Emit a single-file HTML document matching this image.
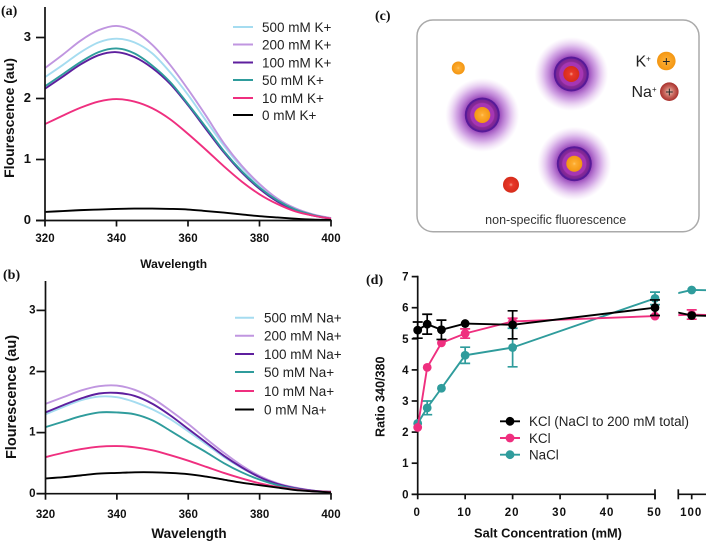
<!DOCTYPE html>
<html lang="en">
<head>
<meta charset="utf-8">
<title>Fluorescence figure</title>
<style>
html,body{margin:0;padding:0;background:#fff;width:706px;height:543px;overflow:hidden}
svg{display:block;font-family:"Liberation Sans",sans-serif}
.tick{font-weight:bold;fill:#111}
.title{font-weight:bold;fill:#111}
.leg{fill:#222}
.panel{font-family:"Liberation Serif",serif;font-weight:bold;font-size:14px;fill:#111}
</style>
</head>
<body>
<svg id="fig" xmlns="http://www.w3.org/2000/svg" width="706" height="543" viewBox="0 0 706 543">
<defs>
<radialGradient id="glow"><stop offset="0.45" stop-color="#8a2fb0" stop-opacity="0.9"/><stop offset="0.7" stop-color="#b060d0" stop-opacity="0.55"/><stop offset="1" stop-color="#d9a8e8" stop-opacity="0"/></radialGradient>
<radialGradient id="ring"><stop offset="0.45" stop-color="#a636b4"/><stop offset="0.66" stop-color="#a636b4"/><stop offset="0.72" stop-color="#872a96"/><stop offset="0.86" stop-color="#7a2596"/><stop offset="0.9" stop-color="#571a98"/><stop offset="1" stop-color="#571a98"/></radialGradient>
<radialGradient id="orange"><stop offset="0" stop-color="#ffc868"/><stop offset="0.22" stop-color="#fdac30"/><stop offset="1" stop-color="#f39612"/></radialGradient>
<radialGradient id="red"><stop offset="0" stop-color="#f6a08a"/><stop offset="0.25" stop-color="#e8382a"/><stop offset="1" stop-color="#d62c1a"/></radialGradient>
<radialGradient id="nared"><stop offset="0" stop-color="#ecc4b4"/><stop offset="0.55" stop-color="#c8655c"/><stop offset="1" stop-color="#a8302c"/></radialGradient>
<clipPath id="left-clip"><rect x="400" y="260" width="255.5" height="250"/></clipPath>
<clipPath id="right-clip"><rect x="678.3" y="260" width="30" height="250"/></clipPath>
</defs>

<text class="panel" x="1" y="15">(a)</text>
<text class="panel" x="3" y="279">(b)</text>
<text class="panel" x="375" y="20">(c)</text>
<text class="panel" x="366" y="284">(d)</text>

<g id="panel-a">
  <text class="title" font-size="14" text-anchor="middle" transform="translate(14 118) rotate(-90)">Flourescence (au)</text>
  <text class="title" font-size="12" text-anchor="middle" x="173.7" y="268">Wavelength</text>
</g>
<g font-size="13.5" class="leg">
  <text x="262" y="32">500 mM K+</text>
  <text x="262" y="49.5">200 mM K+</text>
  <text x="262" y="67.5">100 mM K+</text>
  <text x="262" y="85">50 mM K+</text>
  <text x="262" y="103">10 mM K+</text>
  <text x="262" y="120">0 mM K+</text>
</g>

<g id="panel-b">
  <text class="title" font-size="14.5" text-anchor="middle" transform="translate(16 397) rotate(-90)">Flourescence (au)</text>
  <text class="title" font-size="13.5" text-anchor="middle" x="189" y="538">Wavelength</text>
</g>
<g font-size="13.5" class="leg">
  <text x="264" y="322.5">500 mM Na+</text>
  <text x="264" y="340.5">200 mM Na+</text>
  <text x="264" y="359">100 mM Na+</text>
  <text x="264" y="377">50 mM Na+</text>
  <text x="264" y="396">10 mM Na+</text>
  <text x="264" y="414.5">0 mM Na+</text>
</g>

<g>
  <rect x="417" y="20" width="282" height="211.7" rx="16" fill="#fff" stroke="#aaa" stroke-width="1.5"/>
  <g>
    <circle cx="482.3" cy="115" r="37" fill="url(#glow)"/><circle cx="482.3" cy="115" r="17.5" fill="url(#ring)"/><circle cx="482.3" cy="115" r="8" fill="url(#orange)"/>
  </g>
  <g>
    <circle cx="571.3" cy="74" r="37" fill="url(#glow)"/><circle cx="571.3" cy="74" r="17.5" fill="url(#ring)"/><circle cx="571.3" cy="74" r="8" fill="url(#red)"/>
  </g>
  <g>
    <circle cx="574.3" cy="163.7" r="37" fill="url(#glow)"/><circle cx="574.3" cy="163.7" r="17.5" fill="url(#ring)"/><circle cx="574.3" cy="163.7" r="8" fill="url(#orange)"/>
  </g>
  <circle cx="458.3" cy="68" r="6.5" fill="url(#orange)"/>
  <circle cx="511" cy="184.7" r="8" fill="url(#red)"/>
  <text x="635.5" y="66.5" font-size="16" fill="#222">K<tspan font-size="8" dy="-5">+</tspan></text>
  <circle cx="666.3" cy="61" r="9.3" fill="url(#orange)"/>
  <text x="666.3" y="66" font-size="14" text-anchor="middle" fill="#222">+</text>
  <text x="631.5" y="97" font-size="16" fill="#222">Na<tspan font-size="8" dy="-5">+</tspan></text>
  <circle cx="669.3" cy="91.7" r="9.3" fill="url(#nared)"/>
  <text x="669.3" y="96.7" font-size="14" text-anchor="middle" fill="#222">+</text>
  <text x="555.7" y="224" font-size="12.5" text-anchor="middle" fill="#333">non-specific fluorescence</text>
</g>

<g id="panel-d">
  <text class="title" font-size="12.6" text-anchor="middle" transform="translate(384.5 396.7) rotate(-90)">Ratio 340/380</text>
  <text class="title" font-size="12.8" text-anchor="middle" x="548" y="537.5">Salt Concentration (mM)</text>
</g>
<g font-size="13.4" class="leg">
  <text x="529" y="426">KCl (NaCl to 200 mM total)</text>
  <text x="529" y="443">KCl</text>
  <text x="529" y="459.5">NaCl</text>
</g>
</svg>

<script>
// ---- Spectra data ----
const wavelengths = [320,325,330,335,340,345,350,355,360,365,370,375,380,385,390,395,400];
const specTicksX = [320,340,360,380,400];
const specTicksY = [0,1,2,3];
const seriesColors = ['#a5dcf0','#c096e0','#5e1f9e','#2f9c9c','#ef2f7f','#000000'];

const k500 = [2.35,2.55,2.76,2.92,2.98,2.92,2.74,2.43,2.06,1.64,1.23,0.87,0.57,0.35,0.19,0.09,0.04];
const k200 = [2.50,2.72,2.95,3.12,3.19,3.10,2.88,2.55,2.15,1.72,1.27,0.90,0.60,0.36,0.20,0.10,0.04];
const k100 = [2.16,2.36,2.56,2.71,2.76,2.68,2.50,2.24,1.89,1.50,1.12,0.79,0.52,0.31,0.17,0.08,0.03];
const k50  = [2.20,2.40,2.60,2.76,2.82,2.74,2.54,2.27,1.91,1.53,1.14,0.81,0.54,0.33,0.18,0.09,0.03];
const k10  = [1.58,1.72,1.85,1.95,1.99,1.95,1.84,1.66,1.42,1.16,0.89,0.64,0.43,0.27,0.15,0.08,0.03];
const k0   = [0.14,0.155,0.17,0.18,0.19,0.195,0.195,0.19,0.18,0.155,0.13,0.10,0.07,0.05,0.03,0.015,0.01];

const na500 = [1.30,1.42,1.53,1.59,1.58,1.50,1.38,1.22,1.02,0.81,0.60,0.42,0.27,0.16,0.09,0.05,0.03];
const na200 = [1.47,1.58,1.69,1.76,1.77,1.70,1.56,1.36,1.14,0.90,0.67,0.46,0.29,0.17,0.10,0.05,0.03];
const na100 = [1.33,1.45,1.56,1.64,1.65,1.60,1.47,1.28,1.06,0.84,0.62,0.43,0.27,0.16,0.09,0.05,0.03];
const na50  = [1.09,1.18,1.27,1.33,1.33,1.30,1.20,1.03,0.85,0.68,0.50,0.35,0.23,0.14,0.08,0.04,0.03];
const na10  = [0.60,0.67,0.73,0.77,0.78,0.76,0.71,0.63,0.54,0.44,0.34,0.25,0.17,0.11,0.07,0.04,0.03];
const na0   = [0.25,0.27,0.30,0.33,0.34,0.35,0.35,0.34,0.32,0.28,0.23,0.18,0.14,0.10,0.06,0.04,0.02];

// ---- Ratio data ----
const concentrations = [0,2,5,10,20,50,100,200];
const ratioTicksX = [0,10,20,30,40,50,100];
const ratioTicksY = [0,1,2,3,4,5,6,7];
const naclMean = [2.28,2.78,3.41,4.47,4.72,6.30,6.57,6.55];
const naclErr  = [0,0.22,0,0.26,0.62,0.20,0,0.05];
const kclMean  = [2.15,4.08,4.87,5.17,5.56,5.73,5.78,5.75];
const kclErr   = [0,0,0,0.15,0.10,0,0.15,0.05];
const mixMean  = [5.28,5.47,5.29,5.49,5.45,6.00,5.75,5.72];
const mixErr   = [0.26,0.32,0.31,0,0.45,0.25,0,0.05];

const NS = 'http://www.w3.org/2000/svg';
const fig = document.getElementById('fig');
function make(tag, attrs, parent){
  const node = document.createElementNS(NS, tag);
  for (const key in attrs) node.setAttribute(key, attrs[key]);
  parent.appendChild(node);
  return node;
}
function smoothPath(pts){
  let d = 'M' + pts[0][0].toFixed(2) + ' ' + pts[0][1].toFixed(2);
  for (let i = 0; i < pts.length - 1; i++){
    const p0 = pts[Math.max(i-1,0)], p1 = pts[i], p2 = pts[i+1], p3 = pts[Math.min(i+2,pts.length-1)];
    const c1x = p1[0] + (p2[0]-p0[0])/6, c1y = p1[1] + (p2[1]-p0[1])/6;
    const c2x = p2[0] - (p3[0]-p1[0])/6, c2y = p2[1] - (p3[1]-p1[1])/6;
    d += 'C' + [c1x,c1y,c2x,c2y,p2[0],p2[1]].map(v => v.toFixed(2)).join(' ');
  }
  return d;
}
function hline(parent, x1, x2, y, w, color){
  return make('line', {x1:x1, x2:x2, y1:y, y2:y, stroke:color, 'stroke-width':w}, parent);
}
function vline(parent, x, y1, y2, w, color){
  return make('line', {x1:x, x2:x, y1:y1, y2:y2, stroke:color, 'stroke-width':w}, parent);
}

function drawSpectra(groupId, x0, x1, y0, unit, top, series, cfg){
  const g = document.getElementById(groupId);
  const xs = v => x0 + (v - 320) * (x1 - x0) / 80;
  const ys = v => y0 - v * unit;
  series.forEach(function(vals, i){
    const line = make('path', {d: smoothPath(wavelengths.map((w, j) => [xs(w), ys(vals[j])])), fill:'none', stroke:seriesColors[i], 'stroke-width':1.9}, g);
    
    
    const key = hline(g, cfg.legX1, cfg.legX2, cfg.legY[i], 2, seriesColors[i]);
    
    
  });
  const yAxis = vline(g, x0, top, y0 + 0.8, 1.7, '#111');
  
  
  const xAxis = hline(g, x0 - 9, x1 + 0.8, y0, 1.7, '#111');
  
  
  specTicksX.forEach(function(t){
    const tick = vline(g, xs(t), y0, y0 + 6, 1.7, '#111');
    
    
    const label = make('text', {x:xs(t), y:cfg.xLabelY, 'text-anchor':'middle', 'font-size':cfg.xFont, class:'tick'}, g);
    label.textContent = t;
    
    
  });
  specTicksY.forEach(function(t){
    const tick = hline(g, x0 - 9, x0, ys(t), 1.7, '#111');
    
    
    const label = make('text', {x:cfg.yLabelX, y:ys(t) + cfg.yFont * 0.36 - 1, 'text-anchor':'end', 'font-size':cfg.yFont, class:'tick'}, g);
    label.textContent = t;
    
    
  });
}

drawSpectra('panel-a', 45, 331, 220.5, 61, 7, [k500,k200,k100,k50,k10,k0],
  {legX1:233, legX2:253, legY:[27,44.5,62.5,80,98,115], xLabelY:242, xFont:11.5, yLabelX:31, yFont:13});
drawSpectra('panel-b', 45.5, 331, 493.7, 61.1, 281, [na500,na200,na100,na50,na10,na0],
  {legX1:235, legX2:254, legY:[317.7,335.7,354,372,391,409.5], xLabelY:518, xFont:11.5, yLabelX:35.5, yFont:11.5});

// ---- Ratio panel ----
const gd = document.getElementById('panel-d');
function xD(c){
  if (c <= 50) return 417.7 + c * 4.746;
  if (c <= 100) return 655 + (c - 50) * 0.734;
  return 691.7 + (c - 100) * 0.37;
}
function yD(v){ return 494.3 - v * 31.1; }

const axisYD = vline(gd, xD(0), yD(7) - 0.8, yD(0) + 0.8, 1.7, '#111');


const axisXD = hline(gd, xD(0) - 6, xD(50), yD(0), 1.7, '#111');


const axisXD2 = hline(gd, 678.3, 706, yD(0), 1.7, '#111');


const breakLeft = vline(gd, xD(50), yD(0) - 5, yD(0) + 5, 1.7, '#111');


const breakRight = vline(gd, 678.3, yD(0) - 5, yD(0) + 5, 1.7, '#111');



ratioTicksX.forEach(function(t){
  const tick = vline(gd, xD(t), yD(0), yD(0) + 5, 1.7, '#111');
  
  
  const label = make('text', {x:xD(t) - 0.5, y:516, 'text-anchor':'middle', 'font-size':11.5, 'letter-spacing':'1', class:'tick'}, gd);
  label.textContent = t;
  
  
});
ratioTicksY.forEach(function(t){
  const tick = hline(gd, xD(0) - 6, xD(0), yD(t), 1.7, '#111');
  
  
  const label = make('text', {x:408.5, y:yD(t) + 4, 'text-anchor':'end', 'font-size':11.5, class:'tick'}, gd);
  label.textContent = t;
  
  
});

function drawRatio(means, errs, color, legendY){
  const pts = concentrations.map((c, i) => [xD(c), yD(means[i])]);
  const leftPts = pts.slice(0, 6).map(p => p.join(',')).join(' ');
  const rightPts = pts.slice(5).map(p => p.join(',')).join(' ');
  const lineL = make('polyline', {points:leftPts, fill:'none', stroke:color, 'stroke-width':1.9, 'clip-path':'url(#left-clip)'}, gd);
  
  
  const lineR = make('polyline', {points:rightPts, fill:'none', stroke:color, 'stroke-width':1.9, 'clip-path':'url(#right-clip)'}, gd);
  
  
  concentrations.forEach(function(c, i){
    const x = xD(c), hi = yD(means[i] + errs[i]), lo = yD(means[i] - errs[i]);
    if (errs[i] > 0){
      const bar = make('path', {d:'M'+x+' '+hi+'V'+lo+'M'+(x-5)+' '+hi+'H'+(x+5)+'M'+(x-5)+' '+lo+'H'+(x+5), fill:'none', stroke:color, 'stroke-width':1.7}, gd);
      
      
    }
    const dot = make('circle', {cx:x, cy:yD(means[i]), r:4.4, fill:color}, gd);
    
    
  });
  const keyLine = hline(gd, 500, 520, legendY, 1.9, color);
  
  
  const keyDot = make('circle', {cx:510, cy:legendY, r:4.4, fill:color}, gd);
  
  
}
drawRatio(naclMean, naclErr, '#2f9c9c', 454.7);
drawRatio(kclMean, kclErr, '#ef2f7f', 438);
drawRatio(mixMean, mixErr, '#000000', 421.3);
</script>
</body>
</html>
